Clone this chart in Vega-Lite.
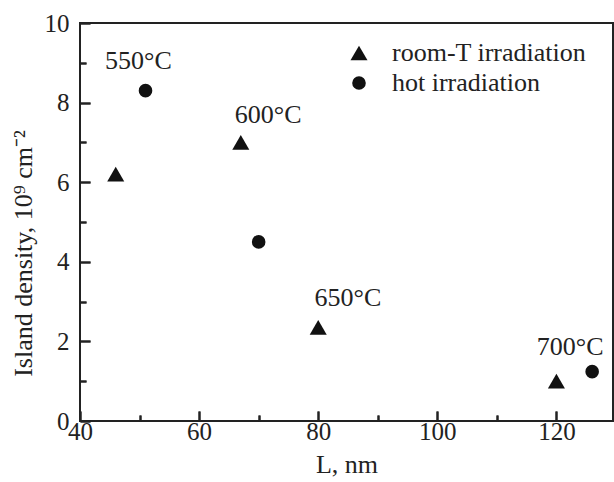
{
  "$schema": "https://vega.github.io/schema/vega-lite/v6.json",
  "autosize": "none",
  "width": 533,
  "height": 398,
  "padding": {"left": 80, "top": 23, "right": 1, "bottom": 61},
  "background": "white",
  "config": {
    "view": {"stroke": "#222", "strokeWidth": 2},
    "font": "Liberation Serif",
    "axis": {"grid": false, "zindex": 1, "domain": false, "tickColor": "#222", "tickWidth": 2, "gridColor": "#222", "gridWidth": 2, "gridOpacity": 1, "labelFont": "Liberation Serif", "titleFont": "Liberation Serif", "labelFontSize": 25, "titleFontSize": 26, "labelColor": "#222", "titleColor": "#222", "titleFontWeight": "normal", "labelFlush": false, "labelOverlap": false},
    "legend": {"title": null, "orient": "none", "legendX": 266, "legendY": 17, "labelFont": "Liberation Serif", "labelFontSize": 26, "labelColor": "#222", "labelLimit": 400, "symbolFillColor": "#111", "symbolStrokeColor": "#111", "labelOffset": 20, "rowPadding": 4}
  },
  "datasets": {
    "pts": [
      {"L": 46, "density": 6.2, "type": "room-T irradiation"},
      {"L": 67, "density": 7.0, "type": "room-T irradiation"},
      {"L": 80, "density": 2.35, "type": "room-T irradiation"},
      {"L": 120, "density": 1.0, "type": "room-T irradiation"},
      {"L": 51, "density": 8.3, "type": "hot irradiation"},
      {"L": 70, "density": 4.5, "type": "hot irradiation"},
      {"L": 126, "density": 1.24, "type": "hot irradiation"}
    ],
    "labels": [
      {"L": 49.8, "density": 9.05, "text": "550°C"},
      {"L": 71.6, "density": 7.68, "text": "600°C"},
      {"L": 85, "density": 3.1, "text": "650°C"},
      {"L": 122.3, "density": 1.85, "text": "700°C"}
    ]
  },
  "resolve": {"axis": {"x": "independent", "y": "independent"}},
  "layer": [
    {
      "data": {"name": "pts"},
      "transform": [{"filter": "datum.type === 'room-T irradiation'"}],
      "mark": {"type": "point", "filled": true, "opacity": 1, "color": "#111"},
      "encoding": {
        "x": {"field": "L", "type": "quantitative", "scale": {"domain": [40, 129.5], "nice": false},
          "axis": {"orient": "bottom", "title": "L, nm", "values": [40,60,80,100,120],
            "ticks": false, "labelPadding": -2, "titlePadding": 7}},
        "y": {"field": "density", "type": "quantitative", "scale": {"domain": [0, 10], "nice": false},
          "axis": {"orient": "left", "title": "Island density, 10⁹ cm⁻²", "values": [0,2,4,6,8,10],
            "ticks": false, "labelPadding": 11, "titlePadding": 8, "titleY": 230}},
        "size": {"field": "type", "type": "nominal",
          "scale": {"domain": ["room-T irradiation", "hot irradiation"], "range": [290, 185]}},
        "shape": {"field": "type", "type": "nominal",
          "scale": {"domain": ["room-T irradiation", "hot irradiation"], "range": ["triangle-up", "circle"]}}
      }
    },
    {
      "data": {"name": "pts"},
      "transform": [{"filter": "datum.type === 'hot irradiation'"}],
      "mark": {"type": "point", "filled": true, "opacity": 1, "color": "#111"},
      "encoding": {
        "x": {"field": "L", "type": "quantitative",
          "axis": {"orient": "bottom", "offset": -10, "title": null, "values": [40,60,80,100,120], "labels": false, "tickSize": 10, "grid": true, "gridDash": [0, 388, 10]}},
        "y": {"field": "density", "type": "quantitative",
          "axis": {"orient": "left", "offset": -10, "title": null, "values": [0,2,4,6,8,10], "labels": false, "tickSize": 10, "grid": true, "gridDash": [10, 1000]}},
        "size": {"field": "type", "type": "nominal"},
        "shape": {"field": "type", "type": "nominal"}
      }
    },
    {
      "data": {"name": "labels"},
      "mark": {"type": "text", "font": "Liberation Serif", "fontSize": 26, "color": "#222"},
      "encoding": {
        "x": {"field": "L", "type": "quantitative",
          "axis": {"orient": "bottom", "offset": -6, "title": null, "values": [50,70,90,110], "labels": false, "tickSize": 6, "grid": true, "gridDash": [0, 392, 6]}},
        "y": {"field": "density", "type": "quantitative",
          "axis": {"orient": "left", "offset": -6, "title": null, "values": [1,3,5,7,9], "labels": false, "tickSize": 6, "grid": true, "gridDash": [6, 1000]}},
        "text": {"field": "text"}
      }
    }
  ]
}
